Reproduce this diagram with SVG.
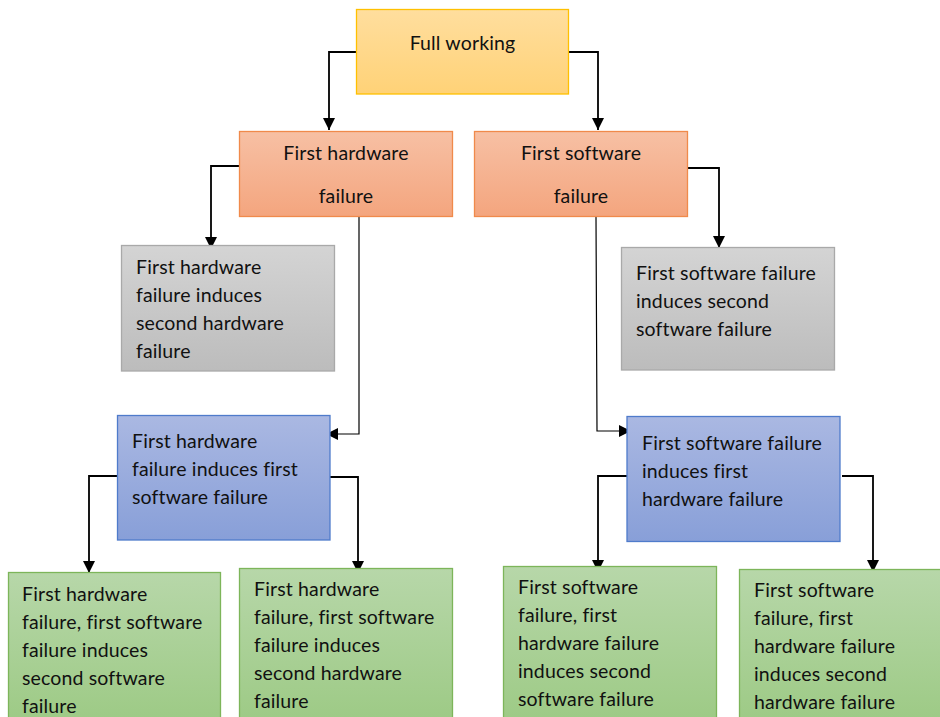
<svg xmlns="http://www.w3.org/2000/svg" width="940" height="717" viewBox="0 0 940 717">
  <style>
    text { font-family: Lato, "Liberation Sans", sans-serif; font-size: 19.5px; letter-spacing: 0.15px; fill: #111; }
    .mid { text-anchor: middle; }
    .box { stroke-width: 1.3; }
    .conn { fill: none; stroke: #000; stroke-width: 1.8; marker-end: url(#arrow); }
    .thin { stroke-width: 1.2; }
  </style>
  <defs>
    <linearGradient id="gYellow" x1="0" y1="0" x2="0" y2="1">
      <stop offset="0" stop-color="#FFDE9E"/>
      <stop offset="1" stop-color="#FFD277"/>
    </linearGradient>
    <linearGradient id="gOrange" x1="0" y1="0" x2="0" y2="1">
      <stop offset="0" stop-color="#F7C0A4"/>
      <stop offset="1" stop-color="#F4A57E"/>
    </linearGradient>
    <linearGradient id="gGray" x1="0" y1="0" x2="0" y2="1">
      <stop offset="0" stop-color="#D4D4D4"/>
      <stop offset="1" stop-color="#BCBCBC"/>
    </linearGradient>
    <linearGradient id="gBlue" x1="0" y1="0" x2="0" y2="1">
      <stop offset="0" stop-color="#AAB8E2"/>
      <stop offset="1" stop-color="#889FD8"/>
    </linearGradient>
    <linearGradient id="gGreen" x1="0" y1="0" x2="0" y2="1">
      <stop offset="0" stop-color="#B7D7A9"/>
      <stop offset="1" stop-color="#9DCA85"/>
    </linearGradient>
    <marker id="arrow" viewBox="0 0 12 12" refX="12" refY="6" markerWidth="12" markerHeight="12" markerUnits="userSpaceOnUse" orient="auto">
      <path d="M0,0 L12,6 L0,12 z" fill="#000"/>
    </marker>
  </defs>

  <!-- connectors -->
  <g id="connectors">
    <path class="conn" d="M356,52 H329 V130"/>
    <path class="conn" d="M569,52 H598 V130"/>
    <path class="conn" d="M239,166 H211 V249"/>
    <path class="conn thin" d="M359,217 V434 H326"/>
    <path class="conn" d="M687,168 H719 V248"/>
    <path class="conn thin" d="M596,217 L597,431 H631"/>
    <path class="conn" d="M117,476 H89 V573"/>
    <path class="conn" d="M329,477 H358 V573"/>
    <path class="conn" d="M627,476 H598 V572"/>
    <path class="conn" d="M842,476 H873 V572"/>
  </g>

  <g id="full-working">
    <rect class="box" x="356.5" y="9.5" width="212" height="84.5" fill="url(#gYellow)" stroke="#FFC000"/>
    <text class="mid" x="462.5" y="50">Full working</text>
  </g>

  <g id="first-hardware-failure">
    <rect class="box" x="239.5" y="131.5" width="213" height="85" fill="url(#gOrange)" stroke="#F08A4B"/>
    <text class="mid" x="346" y="160">First hardware</text>
    <text class="mid" x="346" y="203">failure</text>
  </g>

  <g id="first-software-failure">
    <rect class="box" x="474.5" y="131.5" width="213" height="85" fill="url(#gOrange)" stroke="#F08A4B"/>
    <text class="mid" x="581" y="160">First software</text>
    <text class="mid" x="581" y="203">failure</text>
  </g>

  <g id="hw-induces-second-hw">
    <rect class="box" x="121.5" y="245.5" width="213" height="125.5" fill="url(#gGray)" stroke="#A9A9A9"/>
    <text x="136" y="274">First hardware</text>
    <text x="136" y="302">failure induces</text>
    <text x="136" y="330">second hardware</text>
    <text x="136" y="358">failure</text>
  </g>

  <g id="sw-induces-second-sw">
    <rect class="box" x="621.5" y="247.5" width="213" height="122.5" fill="url(#gGray)" stroke="#A9A9A9"/>
    <text x="636" y="280">First software failure</text>
    <text x="636" y="308">induces second</text>
    <text x="636" y="336">software failure</text>
  </g>

  <g id="hw-induces-first-sw">
    <rect class="box" x="117.5" y="415.5" width="212.5" height="124.5" fill="url(#gBlue)" stroke="#4F7BCB"/>
    <text x="132" y="448">First hardware</text>
    <text x="132" y="476">failure induces first</text>
    <text x="132" y="504">software failure</text>
  </g>

  <g id="sw-induces-first-hw">
    <rect class="box" x="627" y="416.5" width="213" height="125" fill="url(#gBlue)" stroke="#4F7BCB"/>
    <text x="642" y="450">First software failure</text>
    <text x="642" y="478">induces first</text>
    <text x="642" y="506">hardware failure</text>
  </g>

  <g id="hw-sw-second-sw">
    <rect class="box" x="8.5" y="572.5" width="212" height="150" fill="url(#gGreen)" stroke="#7DB55A"/>
    <text x="22" y="601">First hardware</text>
    <text x="22" y="629">failure, first software</text>
    <text x="22" y="657">failure induces</text>
    <text x="22" y="685">second software</text>
    <text x="22" y="713">failure</text>
  </g>

  <g id="hw-sw-second-hw">
    <rect class="box" x="239.5" y="568.5" width="213" height="154" fill="url(#gGreen)" stroke="#7DB55A"/>
    <text x="254" y="596">First hardware</text>
    <text x="254" y="624">failure, first software</text>
    <text x="254" y="652">failure induces</text>
    <text x="254" y="680">second hardware</text>
    <text x="254" y="708">failure</text>
  </g>

  <g id="sw-hw-second-sw">
    <rect class="box" x="503.5" y="566.5" width="213" height="156" fill="url(#gGreen)" stroke="#7DB55A"/>
    <text x="518" y="594">First software</text>
    <text x="518" y="622">failure, first</text>
    <text x="518" y="650">hardware failure</text>
    <text x="518" y="678">induces second</text>
    <text x="518" y="706">software failure</text>
  </g>

  <g id="sw-hw-second-hw">
    <rect class="box" x="739.5" y="569.5" width="210" height="153" fill="url(#gGreen)" stroke="#7DB55A"/>
    <text x="754" y="597">First software</text>
    <text x="754" y="625">failure, first</text>
    <text x="754" y="653">hardware failure</text>
    <text x="754" y="681">induces second</text>
    <text x="754" y="709">hardware failure</text>
  </g>
</svg>
